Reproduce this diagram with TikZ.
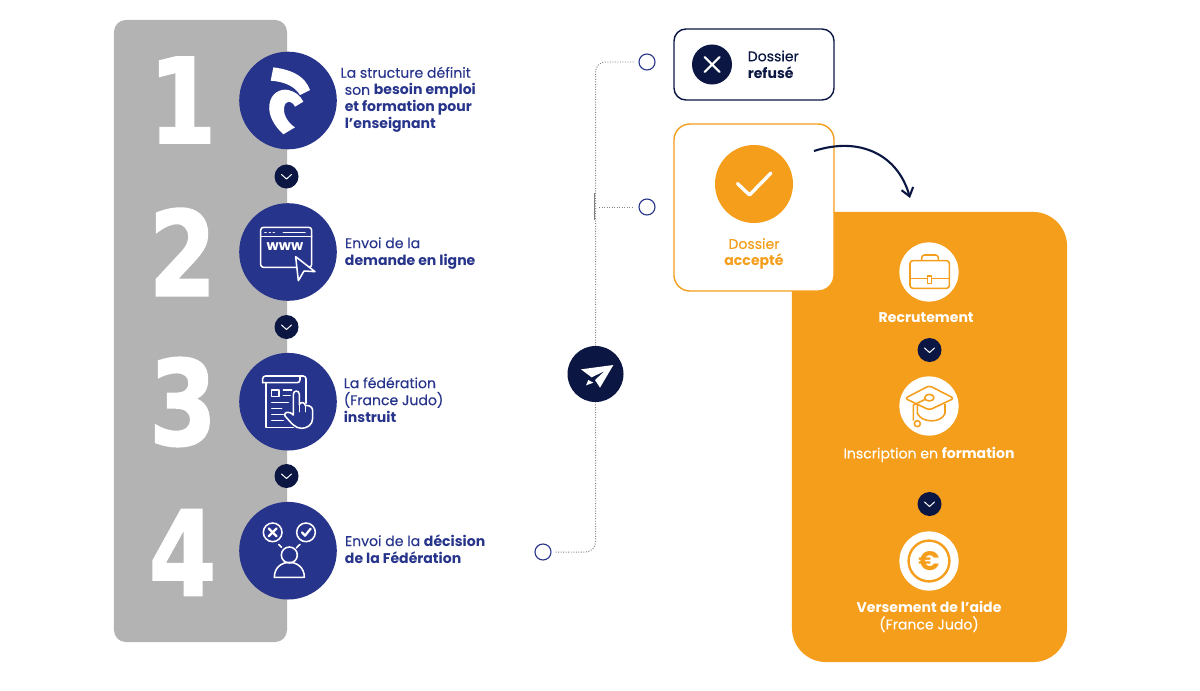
\documentclass[tikz,border=0pt]{standalone}
\usepackage{fontspec}
\setmainfont{Poppins}[UprightFeatures={FakeBold=0.25}]
\newfontfamily\chiffre{DejaVu Sans Bold}[FakeStretch=0.82, FakeBold=1.5]
\usepackage{xcolor}
\usetikzlibrary{arrows.meta}
\usetikzlibrary{positioning}
\definecolor{bleu}{HTML}{27348B}
\definecolor{marine}{HTML}{0B1742}
\definecolor{orange}{HTML}{F59E1B}
\definecolor{gris}{HTML}{B3B3B3}
\tikzset{
  disque/.style={circle, fill=bleu, minimum size=2.44cm, inner sep=0pt},
  puce/.style={circle, fill=marine, minimum size=0.6cm, inner sep=0pt},
  rond/.style={circle, draw=bleu, fill=white, line width=0.8pt, minimum size=0.4cm, inner sep=0pt},
  medaillon/.style={circle, fill=white, minimum size=1.48cm, inner sep=0pt},
  numero/.style={font=\chiffre\fontsize{84}{84}\selectfont, text=white, inner sep=0pt},
  legende/.style={font=\fontsize{10}{12.1}\selectfont, text=bleu, align=left, inner sep=0pt},
  sortie/.style={font=\fontsize{10}{12.1}\selectfont, align=center, inner sep=0pt},
  trait/.style={draw=white, line width=1.1pt, line cap=round, line join=round},
  tracecarte/.style={draw=orange, line width=1.1pt, line join=round},
  pointille/.style={draw=gray, line width=0.7pt, dash pattern=on 0.7pt off 1.1pt},
  chevron/.pic={\draw[white, line width=0.7pt, line cap=round, line join=round] (-5,-2) -- (0,2.5) -- (5,-2);},
}

\begin{document}
\begin{tikzpicture}[x=0.025cm, y=-0.025cm]
  \useasboundingbox (0,0) rectangle (1200,690);
  % colonne grise
  \node[fill=gris, rounded corners=0.3cm, minimum width=4.325cm, minimum height=15.55cm, inner sep=0pt] (colonne) at (200.5,331) {};
  \node[numero] (n1) at (182.5,100) {1};
  \node[numero] (n2) at (182.5,252) {2};
  \node[numero] (n3) at (183,402) {3};
  \node[numero] (n4) at (182.5,552.5) {4};
  \node[disque] (s1) at (288,100.5) {};
  \node[disque] (s2) at (288,252) {};
  \node[disque] (s3) at (288,401.7) {};
  \node[disque] (s4) at (288,550.7) {};
  \node[puce] (p1) at (286.5,176.5) {}; \pic at (p1) {chevron};
  \node[puce] (p2) at (286.5,327) {}; \pic at (p2) {chevron};
  \node[puce] (p3) at (286.5,476) {}; \pic at (p3) {chevron};
  \node[legende, right=0.08cm of s1, yshift=0.02cm] (t1) {La structure définit\\\hspace*{3pt}son \textbf{besoin emploi}\\\hspace*{3pt}\textbf{et formation pour}\\\hspace*{3pt}\textbf{l’enseignant}};
  \node[legende, right=0.19cm of s2, yshift=-0.03cm] (t2) {Envoi de la\\\textbf{demande en ligne}};
  \node[legende, right=0.16cm of s3, yshift=0.05cm] (t3) {La fédération\\(France Judo)\\\textbf{instruit}};
  \node[legende, right=0.19cm of s4, yshift=0.05cm] (t4) {Envoi de la \textbf{décision}\\\textbf{de la Fédération}};
  % logo
  \begin{scope}[shift={(230,40)}, scale=1/3]
    \fill[white] (130,82) .. controls (190,90) and (225,110) .. (240,150) -- (210,165) .. controls (195,140) and (165,125) .. (122,122) -- cycle;
    \fill[white] (220,185) -- (195,200) .. controls (185,180) and (165,178) .. (162,205) .. controls (160,225) and (175,250) .. (195,262) -- (160,283) .. controls (130,255) and (115,225) .. (118,195) .. controls (122,160) and (150,145) .. (175,150) .. controls (195,155) and (210,165) .. (220,185) -- cycle;
    % navigateur
    \draw[trait, rounded corners=2pt] (92,562) rectangle (245,682);
    \draw[trait] (92,590) -- (245,590);
    \draw[trait] (105,578) -- (108,578) (118,578) -- (121,578) (130,578) -- (133,578);
    \draw[trait] (160,578) -- (225,578);
    \node[font=\bfseries\fontsize{10}{10}\selectfont, text=white, inner sep=0pt] (www) at (165,620) {www};
    \draw[trait, fill=bleu] (197,650) -- (255,695) -- (222,693) -- (205,722) -- cycle;
  \end{scope}
  \begin{scope}[shift={(230,340)}, scale=1/3]
    % formulaire
    \draw[trait] (108,128) -- (108,262) -- (190,262);
    \draw[trait, rounded corners=2pt] (98,128) -- (98,108) -- (228,108) -- (228,190);
    \draw[trait, rounded corners=2pt] (98,128) -- (210,128) -- (210,108);
    \draw[trait] (125,150) rectangle (147,170);
    \draw[trait] (160,150) -- (185,150) (160,167) -- (180,167) (125,187) -- (175,187) (125,205) -- (155,205) (125,223) -- (160,223) (125,241) -- (160,241);
    \draw[trait, fill=bleu] (190,225) -- (190,163) .. controls (190,150) and (208,150) .. (208,163) -- (208,195) .. controls (208,185) and (226,185) .. (226,197) .. controls (228,195) and (248,197) .. (248,210) -- (248,235) .. controls (248,255) and (230,265) .. (215,265) .. controls (195,265) and (185,250) .. (165,228) .. controls (160,218) and (175,210) .. (190,225);
    \draw[trait] (208,195) -- (208,215) (226,197) -- (226,215);
    % personne
    \draw[trait] (128,577) circle[radius=28];
    \draw[trait] (228,577) circle[radius=28];
    \draw[trait, line width=1.6pt] (116,565) -- (140,589) (140,565) -- (116,589);
    \draw[trait, line width=1.6pt] (216,577) -- (225,587) -- (242,566);
    \draw[trait] (146,613) -- (155,622) (210,613) -- (199,624);
    \draw[trait] (178,645) circle[radius=24];
    \draw[trait] (133,712) .. controls (133,652) and (223,652) .. (223,712) -- cycle;
  \end{scope}
  % decision
  \node[rond] (d1) at (647,62) {};
  \node[rond] (d2) at (647,207) {};
  \node[rond] (d4) at (543,552) {};
  \node[circle, fill=marine, minimum size=1.4cm, inner sep=0pt] (envoi) at (595.5,374) {};
  \coordinate (j) at (599,207);
  \coordinate (ja) at (594.5,193);
  \coordinate (jb) at (594.5,220);
  \draw[pointille, rounded corners=0.25cm, shorten <=0.1cm] (d4.east) -| (envoi.south);
  \draw[pointille, rounded corners=0.25cm, shorten >=0.1cm] (envoi.north) |- (d1.west);
  \draw[pointille, shorten >=0.1cm] (j) -- (d2.west);
  \draw[gray, line width=0.5pt] (ja) -- (jb);
  \begin{scope}[shift={(530,340)}, scale=1/3]
    \fill[white, line join=round] (250,75) -- (153,88) -- (185,112) -- (224,93) -- (195,120) -- (210,143) -- cycle;
    \fill[white] (175,120) -- (190,128) -- (168,136) -- cycle;
  \end{scope}
  % panneau orange
  \node[fill=orange, rounded corners=0.85cm, minimum width=6.875cm, minimum height=11.25cm, inner sep=0pt] (panneau) at (929.5,437) {};
  \node[draw=marine, line width=1pt, fill=white, rounded corners=0.3cm, minimum width=4cm, minimum height=1.775cm, inner sep=0pt] (refus) at (754,64.5) {};
  \node[circle, fill=marine, minimum size=1cm, inner sep=0pt] (croix) at (712,64.5) {};
  \draw[white, line width=1.5pt, line cap=round] (704.5,57) -- (719.5,72) (719.5,57) -- (704.5,72);
  \node[sortie, text=marine, align=left, right=0.38cm of croix] (tr) {Dossier\\\textbf{refusé}};
  \node[draw=orange, line width=1pt, fill=white, rounded corners=0.4cm, minimum width=4cm, minimum height=4.175cm, inner sep=0pt] (accepte) at (754,207.5) {};
  \node[circle, fill=orange, minimum size=1.95cm, inner sep=0pt] (ok) at (754,184) {};
  \draw[white, line width=2.4pt, line cap=round, line join=round] (737.5,183.5) -- (749.5,195) -- (771,173);
  \node[sortie, text=orange, below=0.365cm of ok] (ta) {Dossier\\\textbf{accepté}};
  \coordinate (fa) at (814,151);
  \coordinate (fb) at (910,198);
  \draw[marine, line width=1.5pt, -{Straight Barb[length=2mm, width=3mm]}] (fa) .. controls (860,136) and (898,155) .. (fb);
  % parcours
  \node[medaillon] (m1) at (929,272) {};
  \node[medaillon] (m2) at (929,406) {};
  \node[medaillon] (m3) at (929,561) {};
  \node[puce] (q1) at (929.5,350) {}; \pic at (q1) {chevron};
  \node[puce] (q2) at (929.5,504) {}; \pic at (q2) {chevron};
  \node[sortie, text=white, below=0.25cm of m1, xshift=-0.07cm] (l1) {\textbf{Recrutement}};
  \node[sortie, text=white, below=0.275cm of m2] (l2) {Inscription en \textbf{formation}};
  \node[sortie, text=white, below=0.25cm of m3] (l3) {\textbf{Versement de l’aide}\\(France Judo)};
  \begin{scope}[shift={(830,230)}, scale=1/3]
    % mallette
    \draw[tracecarte, rounded corners=2pt] (240,92) rectangle (358,175);
    \draw[tracecarte] (240,145) -- (292,145) (304,145) -- (358,145);
    \draw[tracecarte, rounded corners=2pt] (275,92) -- (275,75) -- (325,75) -- (325,92);
    \draw[tracecarte] (292,138) rectangle (304,160);
    % toque
    \draw[tracecarte, rounded corners=2pt] (225,505) -- (298,467) -- (372,505) -- (298,540) -- cycle;
    \draw[tracecarte] (298,503) ellipse[x radius=14, y radius=10];
    \draw[tracecarte] (286,508) -- (250,525) -- (250,572);
    \draw[tracecarte] (262,525) -- (262,550) .. controls (275,580) and (335,580) .. (345,550) -- (345,522);
    \draw[tracecarte] (262,581) circle[radius=9];
  \end{scope}
  \node[circle, draw=orange, line width=1.7pt, minimum size=1.02cm, inner sep=0pt, font=\bfseries\fontsize{19}{19}\selectfont, text=orange] (euro) at (m3) {€};
\end{tikzpicture}
\end{document}
